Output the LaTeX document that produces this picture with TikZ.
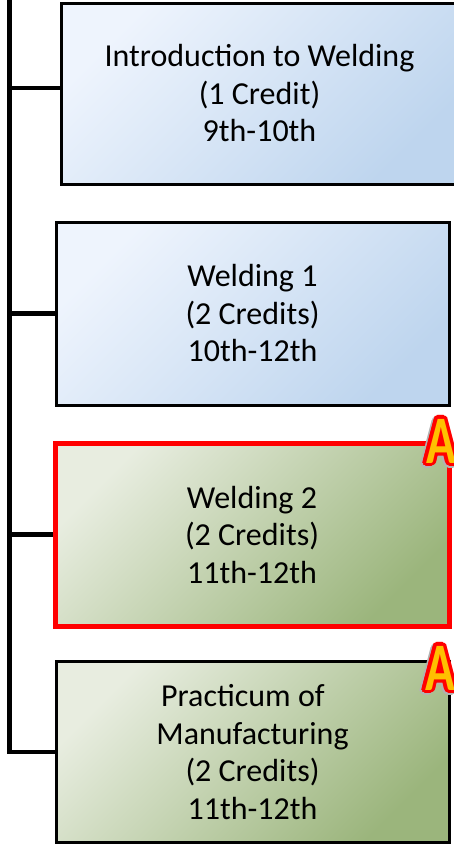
\documentclass[tikz,border=0pt]{standalone}
\usepackage{fontspec}
\setmainfont{Carlito}
\usetikzlibrary{positioning,calc,backgrounds}
\definecolor{bluelight}{HTML}{EEF4FD}
\definecolor{bluedark}{HTML}{BED5EE}
\definecolor{greenlight}{HTML}{E8EDE0}
\definecolor{greendark}{HTML}{9BB57C}
\definecolor{badgegold}{HTML}{FFC000}
% yellow letter with a red rim and a soft shadow
\newcommand{\gradebadge}[2]{%
\foreach \ang in {0,30,...,330}
  \node[BadgeText, text=black!30, xshift=-1.5pt, yshift=-1.5pt] at ([shift={(\ang:3.8pt)}]#2) {\scalebox{0.72}[1]{A}};
\foreach \ang in {0,20,...,340}
  \node[BadgeText, text=red] at ([shift={(\ang:3.2pt)}]#2) {\scalebox{0.72}[1]{A}};
\node[BadgeText, text=badgegold] (#1) at (#2) {\scalebox{0.72}[1]{A}};
}

\begin{document}
\begin{tikzpicture}[
x=1pt, y=-1pt,
Course/.style={draw=black, line width=3pt, minimum height=181pt, inner sep=0pt,
  align=center, font=\fontsize{32}{37.5}\selectfont},
BlueCourse/.style={Course, top color=bluelight, bottom color=bluedark, shading angle=45},
GreenCourse/.style={Course, top color=greenlight, bottom color=greendark, shading angle=45},
Spine/.style={line width=4.5pt},
BadgeText/.style={font=\fontsize{68}{68}\bfseries\selectfont, inner sep=0pt}
]
\useasboundingbox (0,0) rectangle (454,846);

\node[BlueCourse, minimum width=397pt] (intro) at (259.5,93.5)
  {Introduction to Welding\\(1 Credit)\\9th-10th};
\node[BlueCourse, minimum width=393pt, minimum height=183pt] (weld1) at (252.5,313.5)
  {Welding 1\\(2 Credits)\\10th-12th};
\node[GreenCourse, draw=red, line width=5pt, minimum width=394pt, minimum height=183pt] (weld2) at (252,534.5)
  {Welding 2\\(2 Credits)\\11th-12th};
\node[GreenCourse, minimum width=393pt] (practicum) at (252.5,752)
  {Practicum of\hspace*{0.6em}\\Manufacturing\\(2 Credits)\\11th-12th};

\coordinate (spinetop) at (9.5,-5);
\coordinate (introjoin) at ([yshift=5.5pt]intro.west);

% connectors go under the boxes
\begin{scope}[on background layer]
\draw[Spine] (spinetop) -- (spinetop |- practicum.west) -- (practicum.west);
\draw[Spine] (spinetop |- introjoin) -- (introjoin);
\draw[Spine] (spinetop |- weld1.west) -- (weld1.west);
\draw[Spine] (spinetop |- weld2.west) -- (weld2.west);
\end{scope}

\coordinate (weld2badge) at (441,441);
\coordinate (practbadge) at (440,668);
\gradebadge{weld2mark}{weld2badge}
\gradebadge{practmark}{practbadge}

\end{tikzpicture}
\end{document}
